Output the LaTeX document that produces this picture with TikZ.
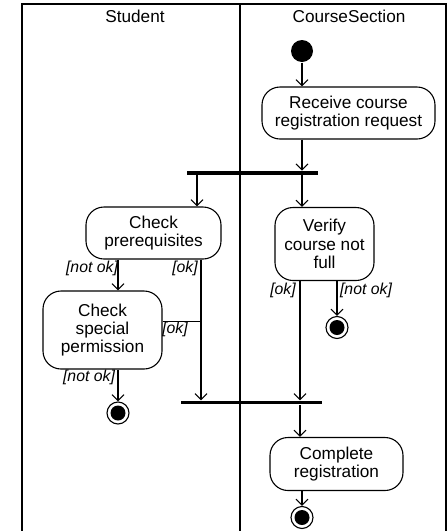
\documentclass[tikz,border=0pt]{standalone}
\usepackage{fontspec}
\setmainfont{Liberation Sans}
\usetikzlibrary{arrows.meta}

\begin{document}
\begin{tikzpicture}[x=1pt, y=-1pt, line width=1.1pt,
  act/.style={draw, rounded corners=18pt, align=center, inner sep=0pt,
    font=\fontsize{17.2}{18.3}\selectfont},
  arr/.style={-{Straight Barb[length=6pt,width=12pt]}},
  guard/.style={font=\fontsize{15.8}{18}\selectfont\itshape, inner sep=0pt},
  bar/.style={fill=black, draw=none, inner sep=0pt, minimum height=3.5pt},
  lane/.style={font=\fontsize{17.2}{18}\selectfont, inner sep=0pt, anchor=base},
  startnode/.style={circle, fill=black, inner sep=0pt, minimum size=22pt},
  endnode/.style={circle, draw, inner sep=0pt, minimum size=22pt,
    path picture={\fill (path picture bounding box.center) circle (7.5pt);}}]
\useasboundingbox (0,0) rectangle (447,531);

% swimlanes
\draw (22,531) -- (22,4) -- (446,4) -- (446,531);
\draw (240,4) -- (240,531);
\node[lane] (lstudent) at (135,22.5) {Student};
\node[lane] (lcourse) at (349,22.5) {CourseSection};

% activities
\node[startnode] (init) at (302,51) {};
\node[act, minimum width=173pt, minimum height=52pt] (recv) at (348.5,113)
  {Receive course\\registration request};
\node[bar, minimum width=131pt] (fork) at (252.5,173) {};
\node[act, minimum width=135pt, minimum height=52pt] (prereq) at (153.5,233)
  {Check\\prerequisites};
\node[act, minimum width=99pt, minimum height=73pt] (verify) at (324.5,244)
  {Verify\\course not\\full};
\node[act, minimum width=119pt, minimum height=78pt] (special) at (102.5,330)
  {Check\\special\\permission};
\node[endnode] (fin1) at (337,327.5) {};
\node[endnode] (fin2) at (118,413) {};
\node[bar, minimum width=141pt] (join) at (251.5,402.7) {};
\node[act, minimum width=133pt, minimum height=53pt] (complete) at (336.5,464)
  {Complete\\registration};
\node[endnode] (fin3) at (302,517.5) {};

% lane positions of the flows
\coordinate (xa) at (197,0);
\coordinate (xb) at (118,0);
\coordinate (xc) at (201,0);
\coordinate (xd) at (300,0);

% flows
\draw[arr] (init) -- (init |- recv.north);
\draw[arr] (recv.south -| init) -- (fork.north -| init);
\draw[arr] (fork.south -| xa) -- (prereq.north -| xa);
\draw[arr] (fork.south -| init) -- (verify.north -| init);
\draw[arr] (prereq.south -| xb) -- (special.north -| xb);
\draw[arr] (prereq.south -| xc) -- (join.north -| xc);
\draw ([yshift=8.3pt]special.east) coordinate (se) -- (se -| xc);
\draw[arr] (special.south -| fin2) -- (fin2.north);
\draw[arr] (verify.south -| xd) -- (join.north -| xd);
\draw[arr] (verify.south -| fin1) -- (fin1.north);
\draw[arr] (join.south -| xd) -- (complete.north -| xd);
\draw[arr] (complete.south -| fin3) -- (fin3.north);

% guards
\node[guard] (g1) at (92,268) {[not ok]};
\node[guard] (g2) at (185,268) {[ok]};
\node[guard] (g3) at (175,329.5) {[ok]};
\node[guard] (g4) at (89,377.7) {[not ok]};
\node[guard] (g5) at (283,290.7) {[ok]};
\node[guard] (g6) at (366,290.7) {[not ok]};
\end{tikzpicture}
\end{document}
